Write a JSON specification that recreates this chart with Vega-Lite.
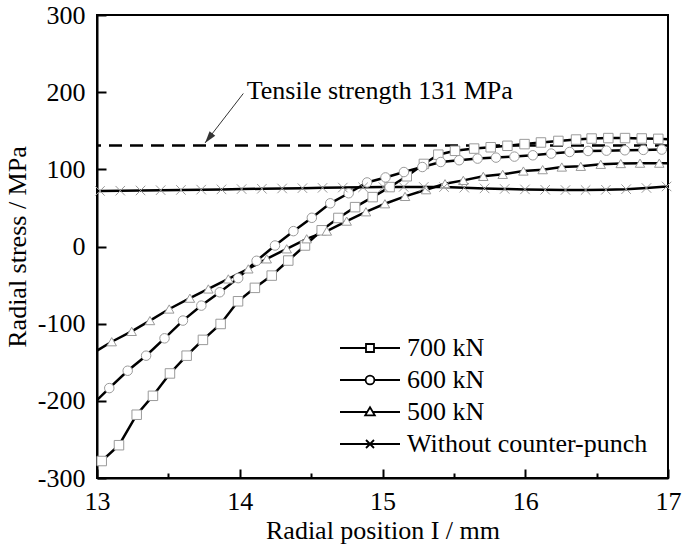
{
  "$schema": "https://vega.github.io/schema/vega-lite/v6.json",
  "width": 571,
  "height": 463,
  "autosize": "none",
  "padding": {"left": 97, "top": 15, "right": 17, "bottom": 78},
  "background": "white",
  "config": {
    "font": "Liberation Serif",
    "style": {
      "guide-label": {"font": "Liberation Serif", "fill": "black"},
      "guide-title": {"font": "Liberation Serif", "fill": "black", "fontWeight": "normal"}
    },
    "view": {"stroke": "black", "strokeWidth": 2},
    "axis": {
      "labelFont": "Liberation Serif",
      "labelFontSize": 26,
      "labelColor": "black",
      "titleFont": "Liberation Serif",
      "titleFontSize": 26,
      "titleFontWeight": "normal",
      "titleColor": "black",
      "domainColor": "black",
      "domainWidth": 2,
      "tickColor": "black",
      "tickWidth": 2,
      "grid": false,
      "labelOverlap": false,
      "labelFlush": false
    },
    "legend": {
      "labelFont": "Liberation Serif",
      "labelFontSize": 26,
      "labelColor": "black",
      "labelLimit": 400
    }
  },
  "datasets": {
    "curves": [
      {"series": "700 kN", "x": 13.0, "y": -282},
      {"series": "700 kN", "x": 13.033, "y": -278},
      {"series": "700 kN", "x": 13.154, "y": -257.5},
      {"series": "700 kN", "x": 13.278, "y": -218},
      {"series": "700 kN", "x": 13.392, "y": -193.5},
      {"series": "700 kN", "x": 13.511, "y": -164.5},
      {"series": "700 kN", "x": 13.628, "y": -141.5},
      {"series": "700 kN", "x": 13.742, "y": -121},
      {"series": "700 kN", "x": 13.866, "y": -100.4},
      {"series": "700 kN", "x": 13.988, "y": -71},
      {"series": "700 kN", "x": 14.106, "y": -53.6},
      {"series": "700 kN", "x": 14.224, "y": -37.7},
      {"series": "700 kN", "x": 14.34, "y": -18.2},
      {"series": "700 kN", "x": 14.457, "y": 1.3},
      {"series": "700 kN", "x": 14.574, "y": 21},
      {"series": "700 kN", "x": 14.691, "y": 37},
      {"series": "700 kN", "x": 14.808, "y": 51},
      {"series": "700 kN", "x": 14.931, "y": 64},
      {"series": "700 kN", "x": 15.05, "y": 77},
      {"series": "700 kN", "x": 15.17, "y": 91},
      {"series": "700 kN", "x": 15.29, "y": 107},
      {"series": "700 kN", "x": 15.391, "y": 119},
      {"series": "700 kN", "x": 15.508, "y": 124},
      {"series": "700 kN", "x": 15.642, "y": 126.9},
      {"series": "700 kN", "x": 15.758, "y": 128.6},
      {"series": "700 kN", "x": 15.875, "y": 130.5},
      {"series": "700 kN", "x": 15.995, "y": 132.7},
      {"series": "700 kN", "x": 16.11, "y": 134.8},
      {"series": "700 kN", "x": 16.232, "y": 136.8},
      {"series": "700 kN", "x": 16.356, "y": 138.6},
      {"series": "700 kN", "x": 16.465, "y": 139.9},
      {"series": "700 kN", "x": 16.582, "y": 140.5},
      {"series": "700 kN", "x": 16.699, "y": 140.5},
      {"series": "700 kN", "x": 16.816, "y": 140},
      {"series": "700 kN", "x": 16.932, "y": 139.5},
      {"series": "700 kN", "x": 17.0, "y": 139},
      {"series": "600 kN", "x": 13.0, "y": -199},
      {"series": "600 kN", "x": 13.086, "y": -183.5},
      {"series": "600 kN", "x": 13.215, "y": -161},
      {"series": "600 kN", "x": 13.344, "y": -141.5},
      {"series": "600 kN", "x": 13.473, "y": -119},
      {"series": "600 kN", "x": 13.602, "y": -96},
      {"series": "600 kN", "x": 13.731, "y": -76.6},
      {"series": "600 kN", "x": 13.86, "y": -59.3},
      {"series": "600 kN", "x": 13.989, "y": -41},
      {"series": "600 kN", "x": 14.118, "y": -18.5},
      {"series": "600 kN", "x": 14.247, "y": 1.3},
      {"series": "600 kN", "x": 14.376, "y": 19.9},
      {"series": "600 kN", "x": 14.505, "y": 37.2},
      {"series": "600 kN", "x": 14.634, "y": 56},
      {"series": "600 kN", "x": 14.763, "y": 69},
      {"series": "600 kN", "x": 14.892, "y": 83},
      {"series": "600 kN", "x": 15.021, "y": 89.5},
      {"series": "600 kN", "x": 15.15, "y": 96.5},
      {"series": "600 kN", "x": 15.279, "y": 103},
      {"series": "600 kN", "x": 15.408, "y": 109.5},
      {"series": "600 kN", "x": 15.537, "y": 111.8},
      {"series": "600 kN", "x": 15.666, "y": 113.9},
      {"series": "600 kN", "x": 15.795, "y": 115.2},
      {"series": "600 kN", "x": 15.924, "y": 116.5},
      {"series": "600 kN", "x": 16.053, "y": 118.2},
      {"series": "600 kN", "x": 16.182, "y": 120.4},
      {"series": "600 kN", "x": 16.311, "y": 122.5},
      {"series": "600 kN", "x": 16.44, "y": 123.8},
      {"series": "600 kN", "x": 16.569, "y": 124.2},
      {"series": "600 kN", "x": 16.698, "y": 124.7},
      {"series": "600 kN", "x": 16.827, "y": 125.2},
      {"series": "600 kN", "x": 16.956, "y": 125.6},
      {"series": "600 kN", "x": 17.0, "y": 125.8},
      {"series": "500 kN", "x": 13.0, "y": -135},
      {"series": "500 kN", "x": 13.103, "y": -123.4},
      {"series": "500 kN", "x": 13.243, "y": -110},
      {"series": "500 kN", "x": 13.371, "y": -96},
      {"series": "500 kN", "x": 13.506, "y": -81},
      {"series": "500 kN", "x": 13.651, "y": -67},
      {"series": "500 kN", "x": 13.78, "y": -55},
      {"series": "500 kN", "x": 13.92, "y": -42},
      {"series": "500 kN", "x": 14.06, "y": -29},
      {"series": "500 kN", "x": 14.189, "y": -16},
      {"series": "500 kN", "x": 14.329, "y": -3},
      {"series": "500 kN", "x": 14.469, "y": 10},
      {"series": "500 kN", "x": 14.61, "y": 20},
      {"series": "500 kN", "x": 14.749, "y": 32.9},
      {"series": "500 kN", "x": 14.884, "y": 45},
      {"series": "500 kN", "x": 15.017, "y": 55.4},
      {"series": "500 kN", "x": 15.158, "y": 64.9},
      {"series": "500 kN", "x": 15.305, "y": 73.6},
      {"series": "500 kN", "x": 15.438, "y": 81.4},
      {"series": "500 kN", "x": 15.566, "y": 85.7},
      {"series": "500 kN", "x": 15.706, "y": 90.9},
      {"series": "500 kN", "x": 15.842, "y": 93.5},
      {"series": "500 kN", "x": 15.987, "y": 97.8},
      {"series": "500 kN", "x": 16.122, "y": 99.6},
      {"series": "500 kN", "x": 16.256, "y": 103},
      {"series": "500 kN", "x": 16.389, "y": 103.9},
      {"series": "500 kN", "x": 16.529, "y": 106.5},
      {"series": "500 kN", "x": 16.669, "y": 107.5},
      {"series": "500 kN", "x": 16.804, "y": 108},
      {"series": "500 kN", "x": 16.939, "y": 108},
      {"series": "500 kN", "x": 17.0, "y": 108},
      {"series": "Without counter-punch", "x": 13.0, "y": 71.8},
      {"series": "Without counter-punch", "x": 13.021, "y": 72},
      {"series": "Without counter-punch", "x": 13.163, "y": 72.3},
      {"series": "Without counter-punch", "x": 13.305, "y": 72.6},
      {"series": "Without counter-punch", "x": 13.446, "y": 73},
      {"series": "Without counter-punch", "x": 13.588, "y": 73.3},
      {"series": "Without counter-punch", "x": 13.73, "y": 73.7},
      {"series": "Without counter-punch", "x": 13.872, "y": 74},
      {"series": "Without counter-punch", "x": 14.013, "y": 74.4},
      {"series": "Without counter-punch", "x": 14.155, "y": 74.8},
      {"series": "Without counter-punch", "x": 14.297, "y": 75.2},
      {"series": "Without counter-punch", "x": 14.439, "y": 75.6},
      {"series": "Without counter-punch", "x": 14.58, "y": 76},
      {"series": "Without counter-punch", "x": 14.722, "y": 76.4},
      {"series": "Without counter-punch", "x": 14.864, "y": 76.7},
      {"series": "Without counter-punch", "x": 15.006, "y": 77},
      {"series": "Without counter-punch", "x": 15.148, "y": 77.2},
      {"series": "Without counter-punch", "x": 15.289, "y": 77.2},
      {"series": "Without counter-punch", "x": 15.431, "y": 77},
      {"series": "Without counter-punch", "x": 15.573, "y": 76.2},
      {"series": "Without counter-punch", "x": 15.715, "y": 75.3},
      {"series": "Without counter-punch", "x": 15.856, "y": 74.6},
      {"series": "Without counter-punch", "x": 15.998, "y": 74},
      {"series": "Without counter-punch", "x": 16.14, "y": 73.5},
      {"series": "Without counter-punch", "x": 16.282, "y": 73.2},
      {"series": "Without counter-punch", "x": 16.423, "y": 73.2},
      {"series": "Without counter-punch", "x": 16.565, "y": 73.5},
      {"series": "Without counter-punch", "x": 16.707, "y": 74.3},
      {"series": "Without counter-punch", "x": 16.849, "y": 75.8},
      {"series": "Without counter-punch", "x": 16.99, "y": 77.8},
      {"series": "Without counter-punch", "x": 17.0, "y": 78}
    ]
  },
  "layer": [
    {
      "data": {"values": [{"strength": 131}]},
      "mark": {"type": "rule", "strokeWidth": 2.5, "strokeDash": [13, 8], "color": "black"},
      "encoding": {
        "y": {"field": "strength", "type": "quantitative"}
      }
    },
    {
      "data": {"name": "curves"},
      "mark": {"type": "line", "strokeWidth": 2.5, "color": "black"},
      "encoding": {
        "x": {
          "field": "x", "type": "quantitative",
          "scale": {"domain": [13, 17], "nice": false, "zero": false},
          "axis": {
            "title": "Radial position I / mm",
            "values": [13, 13.5, 14, 14.5, 15, 15.5, 16, 16.5, 17],
            "labelExpr": "datum.value % 1 === 0 ? '' + datum.value : ''",
            "tickSize": {"condition": {"test": "datum.value % 1 !== 0", "value": -5}, "value": -9},
            "labelPadding": 19,
            "labelFont": "Liberation Serif",
            "titleFont": "Liberation Serif",
            "titleY": 60,
            "titleBaseline": "alphabetic"
          }
        },
        "y": {
          "field": "y", "type": "quantitative",
          "scale": {"domain": [-300, 300], "nice": false, "zero": false},
          "axis": {
            "title": "Radial stress / MPa",
            "values": [-300, -250, -200, -150, -100, -50, 0, 50, 100, 150, 200, 250, 300],
            "labelExpr": "datum.value % 100 === 0 ? '' + datum.value : ''",
            "tickSize": {"condition": {"test": "datum.value % 100 !== 0", "value": -5}, "value": -9},
            "labelPadding": 21,
            "labelBaseline": "middle",
            "labelFont": "Liberation Serif",
            "titleFont": "Liberation Serif",
            "titleX": -80,
            "titleY": 231.5,
            "titleBaseline": "middle"
          }
        },
        "detail": {"field": "series", "type": "nominal"}
      }
    },
    {
      "data": {"name": "curves"},
      "transform": [{"filter": "datum.series === '700 kN' && datum.x > 13 && datum.x < 17"}],
      "mark": {"type": "point", "shape": "square", "filled": true, "fill": "white", "stroke": "#9a9a9a", "strokeWidth": 1, "size": 90, "opacity": 1},
      "encoding": {
        "x": {"field": "x", "type": "quantitative"},
        "y": {"field": "y", "type": "quantitative"}
      }
    },
    {
      "data": {"name": "curves"},
      "transform": [{"filter": "datum.series === '600 kN' && datum.x > 13 && datum.x < 17"}],
      "mark": {"type": "point", "shape": "circle", "filled": true, "fill": "white", "stroke": "#9a9a9a", "strokeWidth": 1, "size": 90, "opacity": 1},
      "encoding": {
        "x": {"field": "x", "type": "quantitative"},
        "y": {"field": "y", "type": "quantitative"}
      }
    },
    {
      "data": {"name": "curves"},
      "transform": [{"filter": "datum.series === '500 kN' && datum.x > 13 && datum.x < 17"}],
      "mark": {"type": "point", "shape": "triangle-up", "filled": true, "fill": "white", "stroke": "#9a9a9a", "strokeWidth": 1, "size": 90, "opacity": 1},
      "encoding": {
        "x": {"field": "x", "type": "quantitative"},
        "y": {"field": "y", "type": "quantitative"}
      }
    },
    {
      "data": {"name": "curves"},
      "transform": [{"filter": "datum.series === 'Without counter-punch' && datum.x > 13 && datum.x < 17"}],
      "mark": {"type": "point", "shape": "M -1 -1 L 1 1 M -1 1 L 1 -1", "filled": false, "stroke": "#9a9a9a", "strokeWidth": 1, "size": 90, "opacity": 1},
      "encoding": {
        "x": {"field": "x", "type": "quantitative"},
        "y": {"field": "y", "type": "quantitative"}
      }
    },
    {
      "data": {"name": "curves"},
      "mark": {"type": "point", "filled": false, "opacity": 0, "size": 64},
      "encoding": {
        "x": {"field": "x", "type": "quantitative"},
        "y": {"field": "y", "type": "quantitative"},
        "color": {
          "field": "series", "type": "nominal",
          "scale": {"domain": ["700 kN", "600 kN", "500 kN", "Without counter-punch"], "range": ["black", "black", "black", "black"]},
          "legend": {
            "orient": "none", "legendX": 260, "legendY": 320,
            "title": null, "padding": 0, "rowPadding": 6,
            "symbolSize": 64, "symbolStrokeWidth": 1.8, "symbolOpacity": 1,
            "symbolFillColor": "white",
            "labelOffset": 24
          }
        },
        "shape": {
          "field": "series", "type": "nominal",
          "scale": {
            "domain": ["700 kN", "600 kN", "500 kN", "Without counter-punch"],
            "range": [
              "M -7.5 0 L -1 0 M 1 0 L 7.5 0 M -1 -1 L 1 -1 L 1 1 L -1 1 Z",
              "M -7.5 0 L -1.1 0 M 1.1 0 L 7.5 0 M 1.1 0 A 1.1 1.1 0 1 1 -1.1 0 A 1.1 1.1 0 1 1 1.1 0 Z",
              "M -7.5 0 L -0.75 0 M 0.75 0 L 7.5 0 M 0 -1.2 L 1.2 0.85 L -1.2 0.85 Z",
              "M -7.5 0 L 7.5 0 M -1 -1 L 1 1 M -1 1 L 1 -1"
            ]
          },
          "legend": {
            "orient": "none", "legendX": 260, "legendY": 320,
            "title": null, "padding": 0, "rowPadding": 6,
            "symbolSize": 64, "symbolStrokeWidth": 1.8, "symbolOpacity": 1,
            "symbolFillColor": "white",
            "labelOffset": 24
          }
        }
      }
    },
    {
      "data": {"values": [{"x": 14.025, "y": 198.3, "x2": 13.757, "y2": 134.2}]},
      "mark": {"type": "rule", "strokeWidth": 1, "color": "#333333"},
      "encoding": {
        "x": {"field": "x", "type": "quantitative"},
        "y": {"field": "y", "type": "quantitative"},
        "x2": {"field": "x2"},
        "y2": {"field": "y2"}
      }
    },
    {
      "data": {"values": [{"x2": 13.757, "y2": 134.2}]},
      "mark": {"type": "point", "shape": "M 0 0 L 0.3 1 L -0.3 1 Z", "size": 576, "angle": 217.8, "filled": true, "color": "#333333", "opacity": 1},
      "encoding": {
        "x": {"field": "x2", "type": "quantitative"},
        "y": {"field": "y2", "type": "quantitative"}
      }
    },
    {
      "data": {"values": [{"x": 14.049, "y": 190.5, "label": "Tensile strength 131 MPa"}]},
      "mark": {"type": "text", "align": "left", "baseline": "alphabetic", "font": "Liberation Serif", "fontSize": 26, "color": "black"},
      "encoding": {
        "x": {"field": "x", "type": "quantitative"},
        "y": {"field": "y", "type": "quantitative"},
        "text": {"field": "label"}
      }
    }
  ]
}
